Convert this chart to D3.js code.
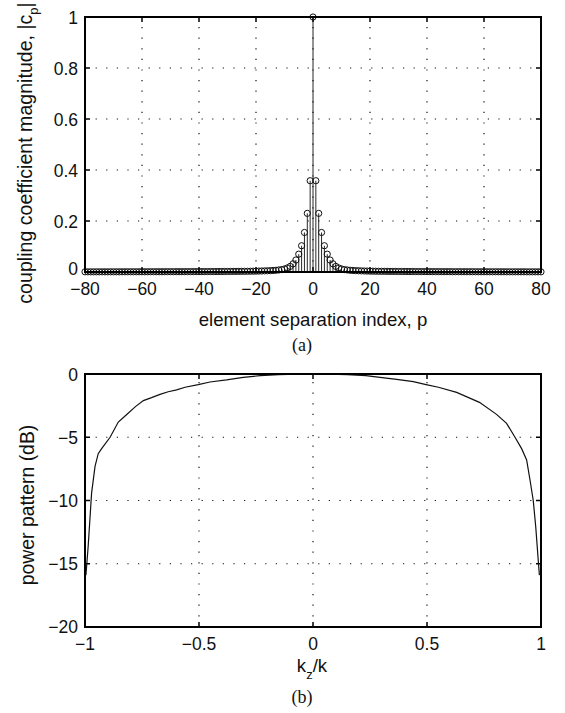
<!DOCTYPE html>
<html><head><meta charset="utf-8">
<script src="https://cdn.jsdelivr.net/npm/d3@7"></script>
<style>
html,body{margin:0;padding:0;background:#fff;}
svg{display:block;}
text{font-family:"Liberation Sans",Arial,Helvetica,sans-serif;fill:#111;}
.cap{font-family:"Liberation Serif","Times New Roman",serif;}
</style></head>
<body>
<svg id="chart" width="565" height="713"></svg>
<script>
// ---------- data ----------
// (a) coupling coefficient magnitude |c_p| for p = 0..80 (symmetric in p)
const pIndexTicks = [-80,-60,-40,-20,0,20,40,60,80];
const cpTicks = [0,0.2,0.4,0.6,0.8,1];
const cpHalf = [1.0,0.358,0.23,0.155,0.103,0.07,0.047,0.032,0.022,0.016,
  0.012,0.0095,0.008,0.0068,0.006,0.0053,0.0048,0.0044,0.004,0.0037,
  0.0034,0.0032,0.003,0.0028,0.0027,0.0026,0.0025,0.0024,0.0023,0.0022,
  0.0021,0.002,0.0019,0.0019,0.0018,0.0018,0.0017,0.0017,0.0016,0.0016,
  0.0015,0.0015,0.0015,0.0014,0.0014,0.0014,0.0013,0.0013,0.0013,0.0012,
  0.0012,0.0012,0.0012,0.0011,0.0011,0.0011,0.0011,0.001,0.001,0.001,
  0.001,0.001,0.0009,0.0009,0.0009,0.0009,0.0009,0.0009,0.0008,0.0008,
  0.0008,0.0008,0.0008,0.0008,0.0008,0.0007,0.0007,0.0007,0.0007,0.0007,0.0007];
// (b) power pattern in dB vs kz/k
const kzTicks = [-1,-0.5,0,0.5,1];
const dbTicks = [0,-5,-10,-15,-20];
const kz  = [-0.996,-0.986,-0.971,-0.956,-0.942,-0.927,-0.89,-0.854,-0.817,-0.78,-0.744,-0.708,-0.671,-0.635,-0.598,-0.561,-0.503,-0.452,-0.379,-0.306,-0.232,-0.15,-0.07,0,0.07,0.15,0.232,0.294,0.367,0.44,0.496,0.55,0.63,0.73,0.805,0.849,0.886,0.915,0.937,0.952,0.966,0.977,0.989,0.993];
const pdB = [-15.9,-13.6,-9.4,-7.3,-6.3,-5.9,-5.0,-3.8,-3.2,-2.6,-2.1,-1.87,-1.61,-1.4,-1.26,-1.05,-0.84,-0.63,-0.47,-0.26,-0.13,-0.05,-0.01,0,-0.01,-0.05,-0.13,-0.26,-0.42,-0.6,-0.84,-1.05,-1.45,-2.24,-3.19,-3.9,-5.0,-5.9,-6.8,-8.4,-10.0,-12.1,-15.0,-15.9];

// ---------- helpers ----------
const svg = d3.select("#chart");
const fmt = v => String(v).replace("-", "\u2212");
const L = 85, R = 541;

function frame(g, x, y, xTicks, yTicks, yFmt, xLabDy, bottomYDy) {
  const [x0, x1] = x.range(), [y0, y1] = y.range(); // y0 bottom, y1 top
  const grid = g.append("g").attr("stroke", "#111").attr("stroke-width", 1.2)
    .attr("stroke-dasharray", "1.2,9.4").attr("stroke-linecap", "butt");
  xTicks.slice(1, -1).forEach(t => grid.append("line")
    .attr("x1", x(t)).attr("x2", x(t)).attr("y1", y0).attr("y2", y1));
  yTicks.forEach(t => { if (y(t) !== y0 && y(t) !== y1) grid.append("line")
    .attr("x1", x0).attr("x2", x1).attr("y1", y(t)).attr("y2", y(t)); });
  const tk = g.append("g").attr("stroke", "#000").attr("stroke-width", 1.5);
  xTicks.forEach(t => {
    tk.append("line").attr("x1", x(t)).attr("x2", x(t)).attr("y1", y0).attr("y2", y0 - 5);
    tk.append("line").attr("x1", x(t)).attr("x2", x(t)).attr("y1", y1).attr("y2", y1 + 5);
  });
  yTicks.forEach(t => {
    tk.append("line").attr("x1", x0).attr("x2", x0 + 5).attr("y1", y(t)).attr("y2", y(t));
    tk.append("line").attr("x1", x1).attr("x2", x1 - 5).attr("y1", y(t)).attr("y2", y(t));
  });
  xTicks.forEach(t => g.append("text").attr("x", x(t)).attr("y", y0 + xLabDy)
    .attr("text-anchor", "middle").attr("font-size", 17.5).text(fmt(t)));
  yTicks.forEach(t => g.append("text").attr("x", x0 - 7)
    .attr("y", y(t) + (y(t) === y0 ? bottomYDy : 6.5))
    .attr("text-anchor", "end").attr("font-size", 17.5).text(yFmt(t)));
}
function box(g, x, y) {
  const [x0, x1] = x.range(), [y0, y1] = y.range();
  g.append("rect").attr("x", x0).attr("y", y1).attr("width", x1 - x0).attr("height", y0 - y1)
    .attr("fill", "none").attr("stroke", "#000").attr("stroke-width", 2);
}

// ---------- (a) ----------
const xa = d3.scaleLinear().domain([-80, 80]).range([L, R]);
const ya = d3.scaleLinear().domain([0, 1]).range([272, 17]);
const ga = svg.append("g");
frame(ga, xa, ya, pIndexTicks, cpTicks, v => String(v), 23, 3);
const stems = [];
cpHalf.forEach((v, p) => { stems.push({p: p, v: v}); if (p > 0) stems.push({p: -p, v: v}); });
stems.sort((a, b) => a.p - b.p);
ga.append("g").selectAll("line").data(stems).join("line")
  .attr("x1", d => xa(d.p)).attr("x2", d => xa(d.p))
  .attr("y1", ya(0)).attr("y2", d => ya(d.v))
  .attr("stroke", "#111").attr("stroke-width", 0.9);
ga.append("line").attr("x1", L).attr("x2", R).attr("y1", ya(0)).attr("y2", ya(0))
  .attr("stroke", "#000").attr("stroke-width", 1);
ga.append("g").selectAll("circle").data(stems).join("circle")
  .attr("cx", d => xa(d.p)).attr("cy", d => ya(d.v)).attr("r", 3.1)
  .attr("fill", "none").attr("stroke", "#111").attr("stroke-width", 1);
box(ga, xa, ya);
ga.append("text").attr("x", (L + R) / 2).attr("y", 326).attr("text-anchor", "middle")
  .attr("font-size", 18.6).text("element separation index, p");
const yla = ga.append("text").attr("transform", "translate(32,153) rotate(-90)")
  .attr("text-anchor", "middle").attr("font-size", 19.6);
yla.append("tspan").text("coupling coefficient magnitude, |c");
yla.append("tspan").attr("font-size", 13).attr("dy", 6).text("p");
yla.append("tspan").attr("dy", -6).text("|");
ga.append("text").attr("class", "cap").attr("x", 302).attr("y", 351)
  .attr("text-anchor", "middle").attr("font-size", 18).text("(a)");

// ---------- (b) ----------
const xb = d3.scaleLinear().domain([-1, 1]).range([L, R]);
const yb = d3.scaleLinear().domain([-20, 0]).range([627, 374]);
const gb = svg.append("g");
frame(gb, xb, yb, kzTicks, dbTicks, fmt, 23, 6);
const line = d3.line().x(d => xb(d[0])).y(d => yb(d[1]));
gb.append("path").datum(kz.map((k, i) => [k, pdB[i]])).attr("d", line)
  .attr("fill", "none").attr("stroke", "#111").attr("stroke-width", 1.2);
box(gb, xb, yb);
const xlb = gb.append("text").attr("x", 312).attr("y", 672).attr("text-anchor", "middle")
  .attr("font-size", 18.6);
xlb.append("tspan").text("k");
xlb.append("tspan").attr("font-size", 13).attr("dy", 7).text("z");
xlb.append("tspan").attr("dy", -7).text("/k");
gb.append("text").attr("transform", "translate(34,505) rotate(-90)")
  .attr("text-anchor", "middle").attr("font-size", 19.4).text("power pattern (dB)");
gb.append("text").attr("class", "cap").attr("x", 302).attr("y", 703)
  .attr("text-anchor", "middle").attr("font-size", 18).text("(b)");
</script>
</body></html>
